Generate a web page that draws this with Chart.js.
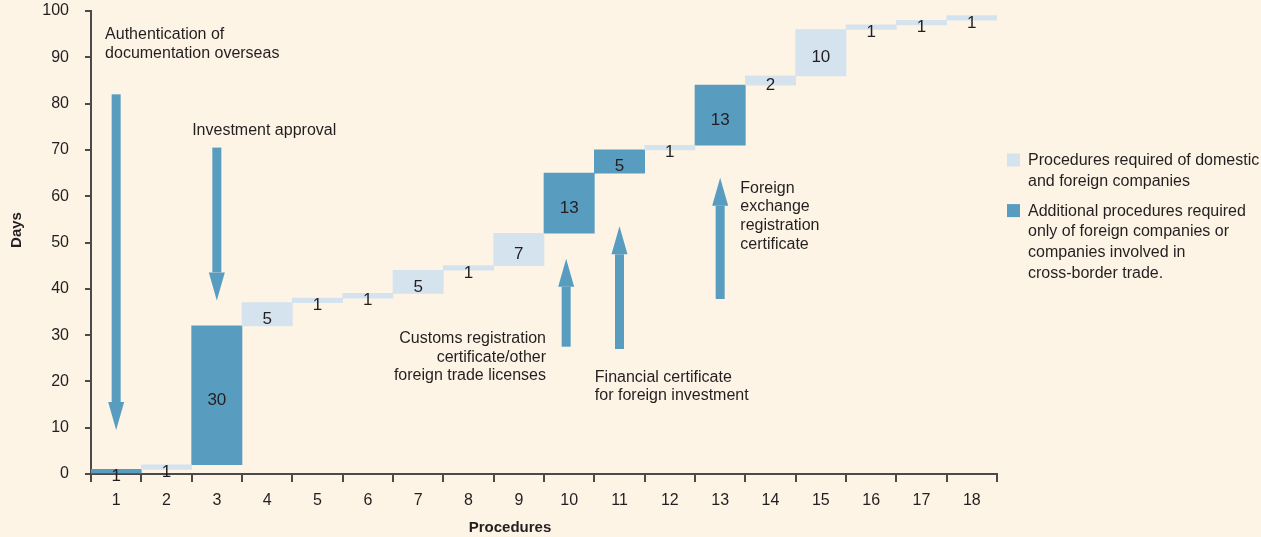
<!DOCTYPE html>
<html>
<head>
<meta charset="utf-8">
<script src="https://cdn.jsdelivr.net/npm/chart.js@4.4.0/dist/chart.umd.min.js"></script>
<style>
  html, body { margin: 0; padding: 0; background: #fdf4e6; }
</style>
</head>
<body>
<canvas id="myChart" width="1261" height="537"></canvas>
<script>
// data
var procedures = ['1', '2', '3', '4', '5', '6', '7', '8', '9', '10', '11', '12', '13', '14', '15', '16', '17', '18'];
var days = [1, 1, 30, 5, 1, 1, 5, 1, 7, 13, 5, 1, 13, 2, 10, 1, 1, 1];
// 1 = additional procedure for foreign companies only
var foreignOnly = [1, 0, 1, 0, 0, 0, 0, 0, 0, 1, 1, 0, 1, 0, 0, 0, 0, 0];
var dayTicks = [0, 10, 20, 30, 40, 50, 60, 70, 80, 90, 100];
var legendLabels = [
  ['Procedures required of domestic', 'and foreign companies'],
  ['Additional procedures required', 'only of foreign companies or', 'companies involved in', 'cross-border trade.']
];

var LIGHT = '#d5e3ef';
var DARK = '#589cc0';
var TEXT = '#231f20';
var AXIS = '#4a4a4a';
var FONT = '"Liberation Sans", Arial, sans-serif';

// waterfall: each bar floats from the running total
var common = [], extra = [];
var total = 0;
days.forEach(function (d, i) {
  var bar = [total, total + d];
  if (foreignOnly[i]) { extra.push(bar); common.push(null); }
  else { common.push(bar); extra.push(null); }
  total += d;
});

// arrows: category index, from value, to value (tip)
var arrows = [
  { cat: 0, from: 82, to: 9.5 },
  { cat: 2, from: 70.5, to: 37.5 },
  { cat: 9, from: 27.5, to: 46.5, dx: -3 },
  { cat: 10, from: 27, to: 53.5 },
  { cat: 12, from: 37.8, to: 64 }
];

// notes: x in category units, y in days
var notes = [
  { x: -0.22, y: 94.8, align: 'left', lines: ['Authentication of', 'documentation overseas'] },
  { x: 1.51, y: 74.1, align: 'left', lines: ['Investment approval'] },
  { x: 8.54, y: 29.2, align: 'right', lines: ['Customs registration', 'certificate/other', 'foreign trade licenses'] },
  { x: 9.51, y: 20.9, align: 'left', lines: ['Financial certificate', 'for foreign investment'] },
  { x: 12.4, y: 61.7, align: 'left', lines: ['Foreign', 'exchange', 'registration', 'certificate'] }
];

function drawArrow(ctx, x, y0, y1) {
  var dir = y1 > y0 ? 1 : -1;
  var head = 28, shaft = 9, hw = 16;
  var base = y1 - dir * head;
  ctx.fillRect(x - shaft / 2, Math.min(y0, base), shaft, Math.abs(base - y0));
  ctx.beginPath();
  ctx.moveTo(x - hw / 2, base);
  ctx.lineTo(x + hw / 2, base);
  ctx.lineTo(x, y1);
  ctx.closePath();
  ctx.fill();
}

var extras = {
  id: 'extras',
  beforeDraw: function (chart) {
    var ctx = chart.ctx;
    ctx.save();
    ctx.fillStyle = '#fdf4e6';
    ctx.fillRect(0, 0, chart.width, chart.height);
    ctx.restore();
  },
  afterDatasetsDraw: function (chart) {
    var ctx = chart.ctx, x = chart.scales.x, y = chart.scales.y;
    ctx.save();
    ctx.fillStyle = TEXT;
    ctx.textAlign = 'center';
    ctx.textBaseline = 'middle';
    ctx.font = '17px ' + FONT;
    var t = 0;
    days.forEach(function (d, i) {
      var cy = (y.getPixelForValue(t) + y.getPixelForValue(t + d)) / 2 + 5;
      ctx.fillText(String(d), x.getPixelForValue(i), cy);
      t += d;
    });

    ctx.fillStyle = DARK;
    arrows.forEach(function (a) {
      drawArrow(ctx, x.getPixelForValue(a.cat) + (a.dx || 0), y.getPixelForValue(a.from), y.getPixelForValue(a.to));
    });

    ctx.fillStyle = TEXT;
    ctx.font = '16px ' + FONT;
    notes.forEach(function (n) {
      ctx.textAlign = n.align;
      var px = x.getPixelForValue(n.x), py = y.getPixelForValue(n.y);
      n.lines.forEach(function (l, k) { ctx.fillText(l, px, py + k * 18.6); });
    });

    // legend
    var lx = chart.chartArea.right + 10, ly = 160.5;
    [LIGHT, DARK].forEach(function (c, k) {
      ctx.fillStyle = c;
      ctx.fillRect(lx, ly - 7, 13, 13);
      ctx.fillStyle = TEXT;
      ctx.textAlign = 'left';
      legendLabels[k].forEach(function (l, j) { ctx.fillText(l, lx + 21, ly + j * 20.8); });
      ly += legendLabels[k].length * 20.8 + 9;
    });

    // axis titles
    ctx.font = 'bold 15px ' + FONT;
    ctx.textAlign = 'center';
    ctx.fillText('Procedures', 510, 528);
    ctx.translate(17, 230);
    ctx.rotate(-Math.PI / 2);
    ctx.fillText('Days', 0, 0);
    ctx.restore();
  }
};

var ctx = document.getElementById('myChart').getContext('2d');
var chart = new Chart(ctx, {
  type: 'bar',
  data: {
    labels: procedures,
    datasets: [{
      label: legendLabels[0].join(' '),
      data: common,
      backgroundColor: LIGHT,
      grouped: false,
      barPercentage: 1,
      categoryPercentage: 1,
      borderWidth: 0
    }, {
      label: legendLabels[1].join(' '),
      data: extra,
      backgroundColor: DARK,
      grouped: false,
      barPercentage: 1,
      categoryPercentage: 1,
      borderWidth: 0
    }]
  },
  options: {
    responsive: false,
    devicePixelRatio: 1,
    animation: false,
    layout: { padding: { left: 0, top: 11, right: 264, bottom: 0 } },
    plugins: { legend: { display: false }, tooltip: { enabled: false } },
    scales: {
      x: {
        afterFit: function (s) { s.height = 63; s.paddingLeft = 0; s.paddingRight = 0; },
        grid: { display: true, drawOnChartArea: false, offset: true, tickLength: 8, color: AXIS, lineWidth: 2 },
        border: { display: true, color: AXIS, width: 2 },
        ticks: { color: TEXT, font: { family: FONT, size: 16 }, padding: 9 }
      },
      y: {
        min: 0,
        max: 100,
        afterFit: function (s) { s.width = 91; s.paddingTop = 0; s.paddingBottom = 0; },
        afterBuildTicks: function (s) { s.ticks = dayTicks.map(function (v) { return { value: v }; }); },
        grid: { display: true, drawOnChartArea: false, tickLength: 6, color: AXIS, lineWidth: 2 },
        border: { display: true, color: AXIS, width: 2 },
        ticks: { color: TEXT, font: { family: FONT, size: 16 }, padding: 16 }
      }
    }
  },
  plugins: [extras]
});
</script>
</body>
</html>
